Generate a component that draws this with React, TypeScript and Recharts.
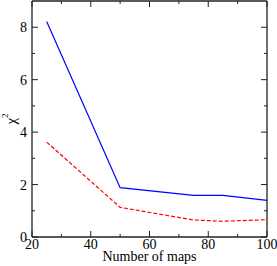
import { LineChart, Line, XAxis, YAxis, Label } from 'recharts'

const maps = [25, 50, 75, 85, 100]
const chiSolid = [8.22, 1.88, 1.59, 1.59, 1.4]
const chiDashed = [3.62, 1.13, 0.65, 0.6, 0.66]

const xTicks = [20, 30, 40, 50, 60, 70, 80, 90, 100]
const yTicks = [0, 1, 2, 3, 4, 5, 6, 7, 8]
const xLabeled = [20, 40, 60, 80, 100]
const yLabeled = [0, 2, 4, 6, 8]

const data = maps.map((n, i) => ({ n, solid: chiSolid[i], dashed: chiDashed[i] }))

const FONT = '"Liberation Serif", "DejaVu Serif", serif'
const AXIS = '#222'

function BottomTick(props: any) {
  const { x, y, payload } = props
  const major = xLabeled.includes(payload.value)
  return (
    <g>
      <line x1={x} y1={y} x2={x} y2={y - (major ? 6 : 3)} stroke={AXIS} strokeWidth={1} />
      {major && (
        <text x={x} y={y + 12} textAnchor="middle" fontFamily={FONT} fontSize={14} fill="#000">
          {payload.value}
        </text>
      )}
    </g>
  )
}

function TopTick(props: any) {
  const { x, y, payload } = props
  const major = xLabeled.includes(payload.value)
  return <line x1={x} y1={y} x2={x} y2={y + (major ? 6 : 3)} stroke={AXIS} strokeWidth={1} />
}

function LeftTick(props: any) {
  const { x, y, payload } = props
  const major = yLabeled.includes(payload.value)
  return (
    <g>
      <line x1={x} y1={y} x2={x + (major ? 6 : 3)} y2={y} stroke={AXIS} strokeWidth={1} />
      {major && (
        <text x={x - 5} y={y + 5} textAnchor="end" fontFamily={FONT} fontSize={14} fill="#000">
          {payload.value}
        </text>
      )}
    </g>
  )
}

function RightTick(props: any) {
  const { x, y, payload } = props
  const major = yLabeled.includes(payload.value)
  return <line x1={x} y1={y} x2={x - (major ? 6 : 3)} y2={y} stroke={AXIS} strokeWidth={1} />
}

function MapsLabel(props: any) {
  const { viewBox } = props
  return (
    <text
      x={viewBox.x + viewBox.width / 2}
      y={viewBox.y + 24}
      textAnchor="middle"
      fontFamily={FONT}
      fontSize={14}
      fill="#000"
    >
      Number of maps
    </text>
  )
}

function ChiLabel(props: any) {
  const { viewBox } = props
  const cx = 16
  const cy = viewBox.y + viewBox.height / 2
  return (
    <text
      x={cx}
      y={cy}
      transform={`rotate(-90 ${cx} ${cy})`}
      textAnchor="middle"
      fontFamily={FONT}
      fontSize={15}
      fill="#000"
    >
      χ<tspan fontSize={9} dy={-8}>2</tspan>
    </text>
  )
}

export default function App() {
  return (
    <div style={{ position: 'absolute', left: 0, top: 0, background: '#fff' }}>
      <LineChart width={277} height={266} data={data} margin={{ top: 0, right: 9, bottom: 0, left: 0 }}>
        <XAxis
          dataKey="n"
          type="number"
          domain={[20, 100]}
          ticks={xTicks}
          interval={0}
          tickSize={0}
          tickMargin={0}
          tickLine={false}
          tick={<BottomTick />}
          axisLine={{ stroke: AXIS, strokeWidth: 1.3 }}
          height={29}
        >
          <Label content={<MapsLabel />} />
        </XAxis>
        <XAxis
          xAxisId="top"
          dataKey="n"
          type="number"
          orientation="top"
          domain={[20, 100]}
          ticks={xTicks}
          interval={0}
          tickSize={0}
          tickMargin={0}
          tickLine={false}
          tick={<TopTick />}
          axisLine={{ stroke: AXIS, strokeWidth: 1.3 }}
          height={1}
        />
        <YAxis
          type="number"
          domain={[0, 9]}
          ticks={yTicks}
          interval={0}
          tickSize={0}
          tickMargin={0}
          tickLine={false}
          tick={<LeftTick />}
          axisLine={{ stroke: AXIS, strokeWidth: 1.3 }}
          width={32}
        >
          <Label content={<ChiLabel />} />
        </YAxis>
        <YAxis
          yAxisId="right"
          orientation="right"
          type="number"
          domain={[0, 9]}
          ticks={yTicks}
          interval={0}
          tickSize={0}
          tickMargin={0}
          tickLine={false}
          tick={<RightTick />}
          axisLine={{ stroke: AXIS, strokeWidth: 1.3 }}
          width={1}
        />
        <Line
          dataKey="solid"
          stroke="#0000ff"
          strokeWidth={1.2}
          dot={false}
          isAnimationActive={false}
        />
        <Line
          dataKey="dashed"
          stroke="#ff0000"
          strokeWidth={1.2}
          strokeDasharray="4 2"
          dot={false}
          isAnimationActive={false}
        />
        {/* invisible copy so the mirrored frame axes get drawn */}
        <Line
          xAxisId="top"
          yAxisId="right"
          dataKey="solid"
          stroke="none"
          dot={false}
          activeDot={false}
          legendType="none"
          isAnimationActive={false}
        />
      </LineChart>
    </div>
  )
}
